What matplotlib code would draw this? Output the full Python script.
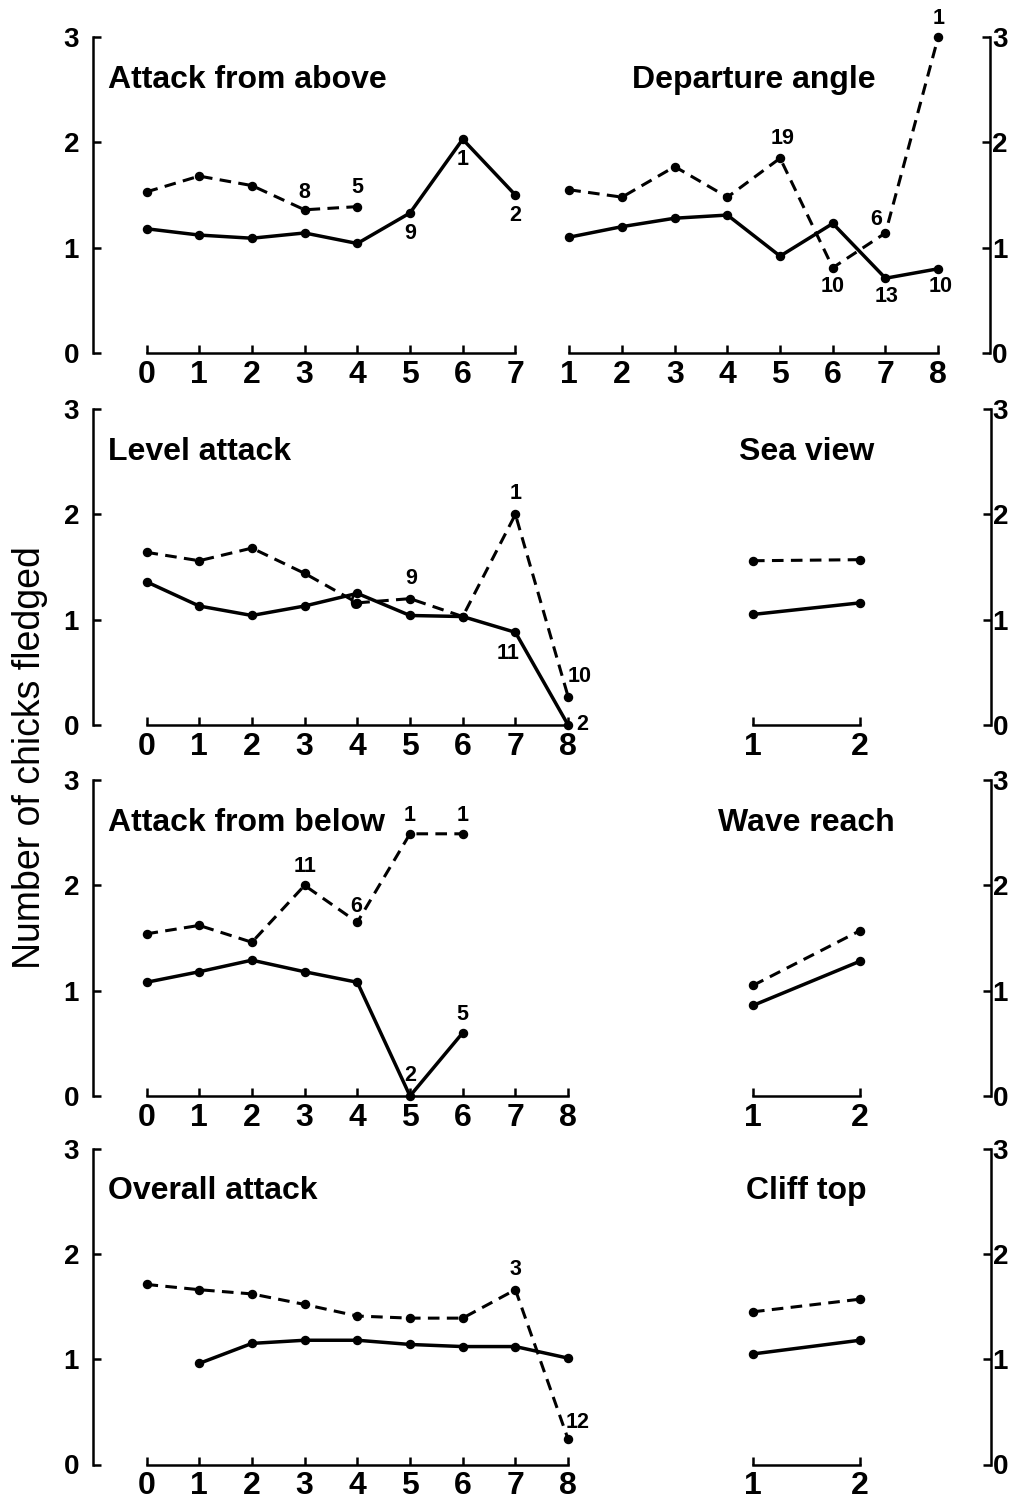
import numpy as np
import matplotlib.pyplot as plt

plt.rcParams['font.family'] = ['Liberation Sans', 'DejaVu Sans']

nan = np.nan

# ---- data -------------------------------------------------------------
# Left column: attack-direction scores
above_x = [0, 1, 2, 3, 4, 5, 6, 7]
above_solid = [1.18, 1.12, 1.09, 1.14, 1.04, 1.33, 2.03, 1.50]
above_dashed = [1.53, 1.68, 1.59, 1.36, 1.39, nan, nan, nan]
above_counts = [('dashed', 3, '8'), ('dashed', 4, '5'), ('solid', 5, '9'),
                ('solid', 6, '1'), ('solid', 7, '2')]

level_x = [0, 1, 2, 3, 4, 5, 6, 7, 8]
level_solid = [1.36, 1.13, 1.04, 1.13, 1.25, 1.04, 1.03, 0.88, 0.0]
level_dashed = [1.64, 1.56, 1.68, 1.44, 1.16, 1.20, 1.03, 2.00, 0.27]
level_counts = [('dashed', 4, '6'), ('dashed', 5, '9'), ('dashed', 7, '1'),
                ('dashed', 8, '10'), ('solid', 7, '11'), ('solid', 8, '2')]

below_x = [0, 1, 2, 3, 4, 5, 6, 7, 8]
below_solid = [1.08, 1.18, 1.29, 1.18, 1.08, 0.0, 0.60, nan, nan]
below_dashed = [1.54, 1.62, 1.46, 2.00, 1.65, 2.49, 2.49, nan, nan]
below_counts = [('dashed', 3, '11'), ('dashed', 4, '6'), ('dashed', 5, '1'),
                ('dashed', 6, '1'), ('solid', 5, '2'), ('solid', 6, '5')]

overall_x = [0, 1, 2, 3, 4, 5, 6, 7, 8]
overall_solid = [nan, 0.96, 1.15, 1.18, 1.18, 1.14, 1.12, 1.12, 1.01]
overall_dashed = [1.71, 1.66, 1.62, 1.52, 1.41, 1.39, 1.39, 1.66, 0.24]
overall_counts = [('dashed', 7, '3'), ('dashed', 8, '12')]

# Right column: site features
departure_x = [1, 2, 3, 4, 5, 6, 7, 8]
departure_solid = [1.10, 1.20, 1.28, 1.31, 0.92, 1.23, 0.71, 0.80]
departure_dashed = [1.55, 1.48, 1.77, 1.48, 1.85, 0.81, 1.14, 3.00]
departure_counts = [('dashed', 5, '19'), ('dashed', 6, '10'), ('dashed', 7, '6'),
                    ('dashed', 8, '1'), ('solid', 7, '13'), ('solid', 8, '10')]

seaview_x = [1, 2]
seaview_solid = [1.05, 1.16]
seaview_dashed = [1.56, 1.57]

wave_x = [1, 2]
wave_solid = [0.86, 1.28]
wave_dashed = [1.05, 1.57]

cliff_x = [1, 2]
cliff_solid = [1.05, 1.18]
cliff_dashed = [1.45, 1.57]

y_ticks = [0, 1, 2, 3]

# ---- layout -----------------------------------------------------------
W, H = 1029, 1502
fig = plt.figure(figsize=(W / 100, H / 100), dpi=100)

PX_Y = 105.3                       # pixels per y unit
row_zero = [353, 725, 1096, 1464.5]  # pixel row of y = 0 in each band
Y_LO, Y_HI = -0.35, 3.35

LW_SPINE = 1.8
TITLE_FS = 23
TICK_X_FS = 23
TICK_Y_FS = 20
COUNT_FS = 15.5

# label offsets in points, keyed by (series, x)
count_offsets = {
    'above': {('dashed', 3): (0, 12.5), ('dashed', 4): (0, 13.5), ('solid', 5): (0, -15),
              ('solid', 6): (0, -14.5), ('solid', 7): (0, -14.5)},
    'level': {('dashed', 4): (-1.5, -0.5), ('dashed', 5): (0.5, 14.5), ('dashed', 7): (0, 15),
              ('dashed', 8): (8.5, 14.5), ('solid', 7): (-5, -15), ('solid', 8): (10, 0)},
    'below': {('dashed', 3): (0, 13.5), ('dashed', 4): (-1, 11.5), ('dashed', 5): (0, 13.5),
              ('dashed', 6): (0, 13.5), ('solid', 5): (0, 14.5), ('solid', 6): (0, 13.5)},
    'overall': {('dashed', 7): (0, 14.5), ('dashed', 8): (6.5, 12)},
    'departure': {('dashed', 5): (1.5, 14.5), ('dashed', 6): (0, -13.5), ('dashed', 7): (-6.5, 10),
                  ('dashed', 8): (0, 13.5), ('solid', 7): (0.5, -13.5), ('solid', 8): (1.5, -13)},
}


def make_axes(left_px, right_px, zero_px, x_ref_val, x_ref_px, px_per_x):
    bottom = zero_px - Y_LO * PX_Y
    top = zero_px - Y_HI * PX_Y
    ax = fig.add_axes([left_px / W, 1 - bottom / H,
                       (right_px - left_px) / W, (bottom - top) / H])
    ax.set_facecolor('none')
    ax.set_xlim(x_ref_val + (left_px - x_ref_px) / px_per_x,
                x_ref_val + (right_px - x_ref_px) / px_per_x)
    ax.set_ylim(Y_LO, Y_HI)
    return ax


def style_axes(ax, xticks, side):
    for s in ('top', 'left', 'right', 'bottom'):
        ax.spines[s].set_visible(False)
    ax.spines['bottom'].set_visible(True)
    ax.spines['bottom'].set_position(('data', 0))
    ax.spines['bottom'].set_bounds(xticks[0], xticks[-1])
    ax.spines['bottom'].set_linewidth(LW_SPINE)
    ax.spines[side].set_visible(True)
    ax.spines[side].set_bounds(0, 3)
    ax.spines[side].set_linewidth(LW_SPINE)
    ax.set_xticks(xticks)
    ax.set_xticklabels([str(t) for t in xticks])
    ax.set_yticks(y_ticks)
    ax.set_yticklabels([str(t) for t in y_ticks])
    ax.tick_params(axis='x', direction='in', length=5.5, width=LW_SPINE,
                   labelsize=TICK_X_FS, pad=5)
    if side == 'left':
        ax.yaxis.tick_left()
        ypad = 10
    else:
        ax.yaxis.tick_right()
        ypad = 1.5
    ax.tick_params(axis='y', direction='in', length=5.5, width=LW_SPINE,
                   labelsize=TICK_Y_FS, pad=ypad)
    for lab in ax.get_xticklabels() + ax.get_yticklabels():
        lab.set_fontweight('bold')


def draw_series(ax, x, solid, dashed):
    ax.plot(x, dashed, color='black', lw=2.2, ls=(0, (3.8, 2.4)),
            marker='o', ms=5.8, clip_on=False, zorder=3)
    ax.plot(x, solid, color='black', lw=2.5, ls='-',
            marker='o', ms=5.8, clip_on=False, zorder=3)


def draw_counts(ax, key, x, solid, dashed, counts):
    for series, xv, txt in counts:
        vals = dashed if series == 'dashed' else solid
        yv = vals[list(x).index(xv)]
        dx, dy = count_offsets[key][(series, xv)]
        ax.annotate(txt, (xv, yv), xytext=(dx, dy), textcoords='offset points',
                    ha='center', va='center', fontsize=COUNT_FS,
                    fontweight='bold', annotation_clip=False, zorder=4)


# left column
left_panels = [
    ('above', 'Attack from above', above_x, above_solid, above_dashed, above_counts, 540),
    ('level', 'Level attack', level_x, level_solid, level_dashed, level_counts, 620),
    ('below', 'Attack from below', below_x, below_solid, below_dashed, below_counts, 620),
    ('overall', 'Overall attack', overall_x, overall_solid, overall_dashed, overall_counts, 620),
]
for row, (key, title, x, sol, dsh, counts, right_px) in enumerate(left_panels):
    ax = make_axes(93, right_px, row_zero[row], 0, 146.5, 52.7)
    style_axes(ax, x, 'left')
    draw_series(ax, x, sol, dsh)
    draw_counts(ax, key, x, sol, dsh, counts)
    ax.text(-0.73, 2.52, title, ha='left', va='baseline',
            fontsize=TITLE_FS, fontweight='bold')

# right column
ax = make_axes(540, 990, row_zero[0], 1, 569.3, 52.7)
style_axes(ax, departure_x, 'right')
draw_series(ax, departure_x, departure_solid, departure_dashed)
draw_counts(ax, 'departure', departure_x, departure_solid, departure_dashed,
            departure_counts)
ax.text(4.5, 2.52, 'Departure angle', ha='center', va='baseline',
        fontsize=TITLE_FS, fontweight='bold')

right_panels = [
    ('Sea view', seaview_x, seaview_solid, seaview_dashed),
    ('Wave reach', wave_x, wave_solid, wave_dashed),
    ('Cliff top', cliff_x, cliff_solid, cliff_dashed),
]
for row, (title, x, sol, dsh) in enumerate(right_panels, start=1):
    ax = make_axes(680, 990.5, row_zero[row], 1, 753, 107)
    style_axes(ax, x, 'right')
    draw_series(ax, x, sol, dsh)
    ax.text(1.5, 2.52, title, ha='center', va='baseline',
            fontsize=TITLE_FS, fontweight='bold')

fig.text(30 / W, 1 - 758 / H, 'Number of chicks fledged', rotation=90,
         ha='center', va='center', fontsize=27)

fig.savefig('out.png', dpi=100, facecolor='white')
